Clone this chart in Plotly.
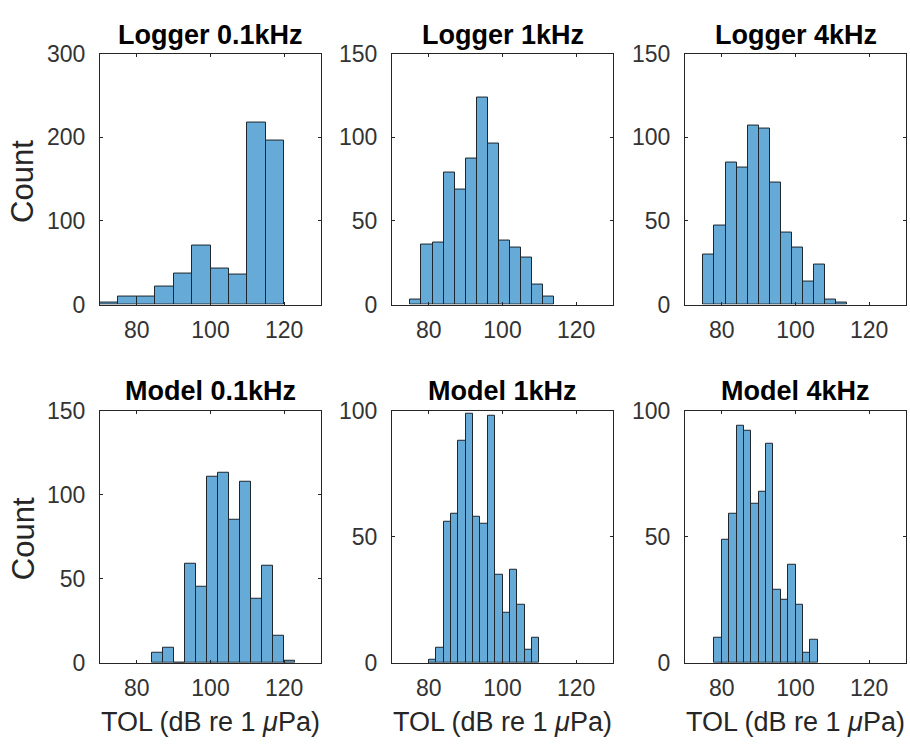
import plotly.graph_objects as go

# ---- data ----
titles = ["Logger 0.1kHz", "Logger 1kHz", "Logger 4kHz",
          "Model 0.1kHz", "Model 1kHz", "Model 4kHz"]

bin_start = [70, 75, 75, 84, 80, 78]
bin_width = [5, 3, 3, 3, 2, 2]

logger_01k = [2, 10, 10, 22, 37, 71, 43, 36, 218, 196]
logger_1k = [3, 36, 37, 79, 69, 87, 124, 96, 38, 34, 28, 12, 5]
logger_4k = [30, 47, 85, 82, 107, 105, 73, 43, 34, 14, 24, 3, 1]
model_01k = [6, 9, 0, 59, 45, 111, 113, 85, 108, 38, 58, 16, 1]
model_1k = [1, 6, 56, 59, 88, 99, 58, 55, 98, 35, 20, 37, 23, 5, 10]
model_4k = [10, 49, 59, 94, 92, 63, 68, 87, 29, 25, 39, 23, 4, 9]
counts = [logger_01k, logger_1k, logger_4k, model_01k, model_1k, model_4k]

x_range = [70, 130]
x_ticks = [80, 100, 120]
y_max = [300, 150, 150, 150, 100, 100]
y_ticks = [[0, 100, 200, 300], [0, 50, 100, 150], [0, 50, 100, 150],
           [0, 50, 100, 150], [0, 50, 100], [0, 50, 100]]

x_label = "TOL (dB re 1 <i>\u03bc</i>Pa)"
y_label = "Count"

# ---- layout geometry (pixels) ----
W, H = 910, 752
col_px = [(100, 321), (392, 613), (685, 906)]
row_px = [(42, 302), (412, 673)]

FONT = "Liberation Sans, Arial, Helvetica, sans-serif"
AX = "#262626"
TICKTXT = "#333333"
FILL = "#66AAD7"
EDGE = "#1e262e"

fig = go.Figure()
annotations = []
layout_axes = {}

for i in range(6):
    r, c = divmod(i, 3)
    n = i + 1
    xa = "x" if n == 1 else f"x{n}"
    ya = "y" if n == 1 else f"y{n}"
    w = bin_width[i]
    centers = [bin_start[i] + w * (k + 0.5) for k in range(len(counts[i]))]
    fig.add_trace(go.Bar(
        x=centers, y=counts[i], width=w,
        marker=dict(color=FILL, line=dict(color=EDGE, width=1)),
        xaxis=xa, yaxis=ya, showlegend=False, hoverinfo="x+y",
    ))
    x0, x1 = col_px[c]
    y0, y1 = row_px[r]
    xd = [x0 / W, x1 / W]
    yd = [1 - y1 / H, 1 - y0 / H]
    kx = "xaxis" if n == 1 else f"xaxis{n}"
    ky = "yaxis" if n == 1 else f"yaxis{n}"
    layout_axes[kx] = dict(
        domain=xd, range=x_range, tickvals=x_ticks, anchor=ya,
        showline=True, mirror="ticks", linecolor=AX, linewidth=1,
        ticks="inside", ticklen=3, tickcolor=AX, tickwidth=1,
        showgrid=False, zeroline=False,
        tickfont=dict(family=FONT, size=23, color=TICKTXT),
        ticklabelstandoff=5,
    )
    layout_axes[ky] = dict(
        domain=yd, range=[0, y_max[i]], tickvals=y_ticks[i], anchor=xa,
        showline=True, mirror="ticks", linecolor=AX, linewidth=1,
        ticks="inside", ticklen=3, tickcolor=AX, tickwidth=1,
        showgrid=False, zeroline=False,
        tickfont=dict(family=FONT, size=23, color=TICKTXT),
        ticklabelstandoff=9,
    )
    # subplot title
    ty = 23 if r == 0 else 392
    annotations.append(dict(
        text=f"<b>{titles[i]}</b>", x=(x0 + x1) / 2 / W, y=1 - ty / H,
        xref="paper", yref="paper", xanchor="center", yanchor="middle",
        showarrow=False, font=dict(family=FONT, size=27, color="#000000"),
    ))
    if r == 1:
        annotations.append(dict(
            text=x_label, x=(x0 + x1) / 2 / W, y=1 - 734 / H,
            xref="paper", yref="paper", xanchor="center", yanchor="middle",
            showarrow=False, font=dict(family=FONT, size=27, color=AX),
        ))
    if c == 0:
        cy = 175 if r == 0 else 545
        annotations.append(dict(
            text=y_label, x=23 / W, y=1 - cy / H, textangle=-90,
            xref="paper", yref="paper", xanchor="center", yanchor="middle",
            showarrow=False, font=dict(family=FONT, size=31, color=AX),
        ))

fig.update_layout(
    width=W, height=H,
    margin=dict(l=0, r=0, t=0, b=0),
    paper_bgcolor="white", plot_bgcolor="white",
    bargap=0, annotations=annotations,
    **layout_axes,
)

fig.write_html("out.html")
